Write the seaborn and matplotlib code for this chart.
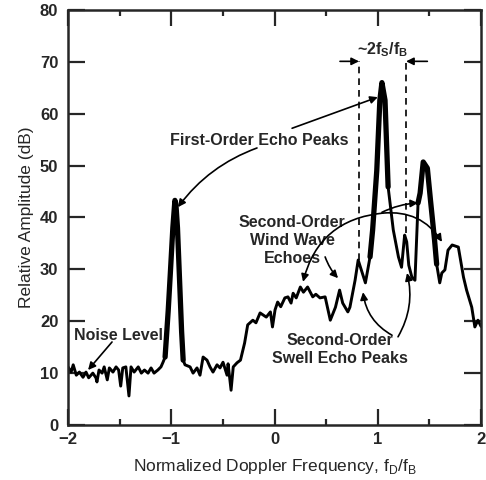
import numpy as np
import pandas as pd
import seaborn as sns
import matplotlib.pyplot as plt

# spectrum (normalized Doppler freq, dB)
freq = [-2.00, -1.97, -1.95, -1.92, -1.89, -1.855, -1.826, -1.80, -1.76, -1.73,
        -1.72, -1.70, -1.67, -1.65, -1.62, -1.60, -1.565, -1.535, -1.51, -1.49,
        -1.47, -1.44, -1.41, -1.39, -1.36, -1.32, -1.29, -1.26, -1.225, -1.196,
        -1.167, -1.13, -1.10, -1.08, -1.06, -1.03, -1.01, -0.985, -0.965, -0.955,
        -0.94, -0.92, -0.90, -0.885, -0.867, -0.818, -0.789, -0.751, -0.722, -0.692,
        -0.654, -0.625, -0.596, -0.557, -0.528, -0.499, -0.46, -0.45, -0.421, -0.40,
        -0.363, -0.33, -0.29, -0.26, -0.21, -0.18, -0.14, -0.08, -0.04, -0.02,
        0.005, 0.03, 0.06, 0.10, 0.13, 0.16, 0.18, 0.21, 0.25, 0.28,
        0.32, 0.37, 0.40, 0.44, 0.49, 0.54, 0.59, 0.63, 0.66, 0.71,
        0.73, 0.78, 0.81, 0.85, 0.88, 0.925, 0.95, 0.99, 1.02, 1.04,
        1.07, 1.10, 1.15, 1.20, 1.23, 1.26, 1.28, 1.30, 1.33, 1.36,
        1.39, 1.41, 1.44, 1.48, 1.51, 1.55, 1.57, 1.60, 1.62, 1.65,
        1.68, 1.72, 1.78, 1.83, 1.86, 1.91, 1.94, 1.97, 2.00]
amp = [11.2, 10.2, 11.6, 9.6, 10.2, 9.2, 10.2, 9.1, 10.0, 9.1,
       8.3, 10.6, 10.0, 11.2, 8.7, 11.0, 10.2, 11.2, 10.6, 7.5,
       11.0, 11.2, 5.6, 11.2, 10.2, 11.2, 10.0, 10.6, 10.0, 11.0,
       10.0, 10.6, 11.2, 12.1, 13.1, 22.0, 29.0, 38.0, 43.3, 42.5,
       38.0, 28.0, 18.0, 12.5, 11.6, 11.2, 10.0, 11.0, 9.6, 13.1,
       12.5, 11.2, 10.2, 11.6, 11.0, 12.1, 9.6, 11.8, 6.7, 11.2,
       12.0, 12.5, 15.8, 19.3, 20.2, 19.7, 21.6, 20.8, 21.8, 18.9,
       22.2, 23.7, 22.8, 24.5, 24.7, 23.5, 25.4, 24.5, 26.6, 25.6,
       26.6, 24.7, 25.2, 24.5, 24.7, 20.2, 22.7, 26.0, 23.5, 21.8,
       22.7, 27.9, 31.8, 29.3, 27.4, 32.4, 37.6, 49.0, 62.6, 66.0,
       62.6, 45.9, 37.6, 32.4, 30.4, 36.6, 35.3, 30.8, 28.5, 27.9,
       42.8, 44.7, 50.7, 49.5, 43.4, 35.6, 31.0, 27.4, 29.3, 29.9,
       33.7, 34.7, 34.3, 28.5, 26.0, 22.7, 18.9, 20.2, 19.0]

x_ticks = [-2, -1, 0, 1, 2]
y_ticks = [0, 10, 20, 30, 40, 50, 60, 70, 80]
band_lo, band_hi = 0.818, 1.274   # ~2fS/fB markers

df = pd.DataFrame({"freq": freq, "amp": amp})

sns.set_theme(style="ticks")
plt.rcParams["font.family"] = ["Liberation Sans", "DejaVu Sans"]
plt.rcParams["mathtext.fontset"] = "custom"
plt.rcParams["mathtext.rm"] = "Liberation Sans"
plt.rcParams["mathtext.bf"] = "Liberation Sans:bold"

fig = plt.figure(figsize=(4.86, 4.80), dpi=100)
ax = fig.add_axes([0.140, 0.1146, 0.8498, 0.8646])

sns.lineplot(data=df, x="freq", y="amp", ax=ax, color="black", lw=2.1,
             estimator=None, sort=False, solid_joinstyle="round")
# heavier strokes on the sharp peaks
for lo, hi in [(-1.07, -0.88), (0.92, 1.12), (1.37, 1.57)]:
    seg = df[(df.freq >= lo) & (df.freq <= hi)]
    sns.lineplot(data=seg, x="freq", y="amp", ax=ax, color="black", lw=3.8,
                 estimator=None, sort=False, solid_joinstyle="round",
                 solid_capstyle="round")

ax.set_xlim(-2, 2)
ax.set_ylim(0, 80)
ax.set_xticks(x_ticks)
ax.set_xticks([-1.5, -0.5, 0.5, 1.5], minor=True)
ax.set_yticks(y_ticks)
ax.set_xticklabels(["\u22122", "\u22121", "0", "1", "2"])
ax.tick_params(axis="x", which="major", direction="in", length=11.5, width=1.6,
               top=True, labelsize=12, pad=5)
ax.tick_params(axis="x", which="minor", direction="in", length=4.5, width=1.6,
               top=True)
ax.tick_params(axis="y", which="major", direction="in", length=12.5, width=1.6,
               right=True, labelsize=12, pad=7)
for lab in ax.get_xticklabels() + ax.get_yticklabels():
    lab.set_fontweight("bold")
for sp in ax.spines.values():
    sp.set_linewidth(1.8)
    sp.set_visible(True)

ax.set_xlabel("Normalized Doppler Frequency, f$_\\mathregular{D}$/f$_\\mathregular{B}$",
              fontsize=12.5, labelpad=7)
ax.set_ylabel("Relative Amplitude (dB)", fontsize=12.5, labelpad=4)

# dashed markers for the swell offset
for xv, yb in [(band_lo, 31.8), (band_hi, 37.0)]:
    ax.plot([xv, xv], [yb, 70.1], color="black", lw=1.2, ls=(0, (4, 3)))
arr = dict(arrowstyle="-|>", color="black", lw=1.2, shrinkA=0, shrinkB=0,
           mutation_scale=11)
ax.annotate("", xy=(band_lo, 70.1), xytext=(0.634, 70.1), arrowprops=arr)
ax.annotate("", xy=(band_hi, 70.1), xytext=(1.48, 70.1), arrowprops=arr)
ax.text(1.05, 72.3, "~2f$_\\mathbf{S}$/f$_\\mathbf{B}$", ha="center", va="center",
        fontsize=11.5, fontweight="bold")

tkw = dict(ha="center", va="center", fontsize=11.5, fontweight="bold",
           linespacing=1.25)

ax.text(-0.15, 54.9, "First-Order Echo Peaks", **tkw)
ax.annotate("", xy=(-0.935, 42.0), xytext=(-0.17, 53.4),
            arrowprops=dict(arr, connectionstyle="arc3,rad=0.15"))
ax.annotate("", xy=(1.0, 63.2), xytext=(0.17, 57.2), arrowprops=arr)

ax.text(-1.516, 17.3, "Noise Level", **tkw)
ax.annotate("", xy=(-1.806, 10.6), xytext=(-1.574, 16.0), arrowprops=arr)

ax.text(0.17, 35.6, "Second-Order\nWind Wave\nEchoes", **tkw)
ax.annotate("", xy=(0.276, 27.6), xytext=(1.05, 40.85),
            arrowprops=dict(arr, connectionstyle="arc3,rad=0.35"))
ax.annotate("", xy=(1.622, 35.3), xytext=(1.05, 40.85),
            arrowprops=dict(arr, connectionstyle="arc3,rad=-0.3"))
ax.annotate("", xy=(1.39, 42.8), xytext=(1.04, 41.0),
            arrowprops=dict(arr, connectionstyle="arc3,rad=-0.1"))
ax.annotate("", xy=(0.615, 28.3), xytext=(0.49, 32.4),
            arrowprops=dict(arr, connectionstyle="arc3,rad=0.1"))

ax.text(0.634, 14.6, "Second-Order\nSwell Echo Peaks", **tkw)
ax.annotate("", xy=(0.857, 25.6), xytext=(1.138, 17.3),
            arrowprops=dict(arr, connectionstyle="arc3,rad=-0.25"))
ax.annotate("", xy=(1.283, 29.3), xytext=(1.196, 17.0),
            arrowprops=dict(arr, connectionstyle="arc3,rad=0.2"))

fig.savefig("out.png", dpi=100)
